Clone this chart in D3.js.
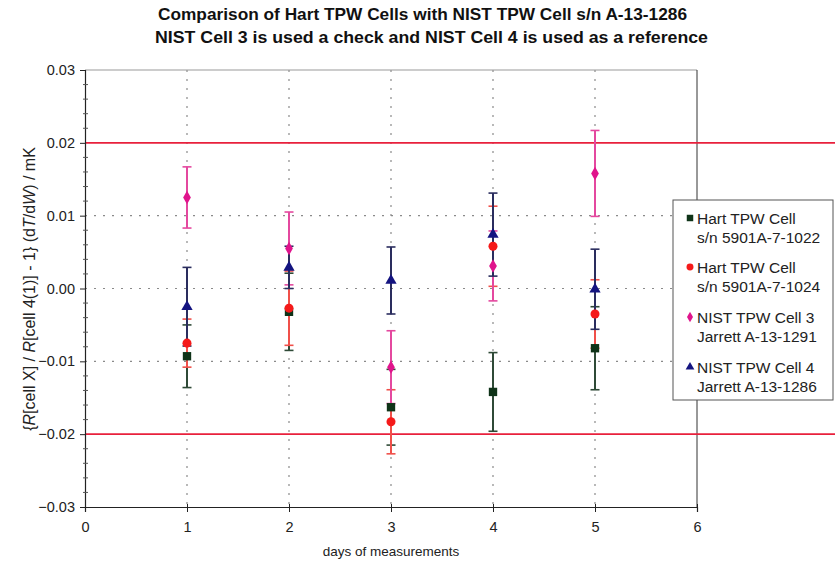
<!DOCTYPE html>
<html><head><meta charset="utf-8">
<script src="https://cdn.jsdelivr.net/npm/d3@7/dist/d3.min.js"></script>
<style>body{margin:0;background:#fff}svg{display:block}text{font-family:"Liberation Sans",Arial,sans-serif}</style>
</head><body><svg id="c" width="835" height="569"></svg>
<script>
const days = [1, 2, 3, 4, 5];
const hart1022 = [-0.0093, -0.0032, -0.0163, -0.0142, -0.0082];
const hart1022Err = [0.0043, 0.0053, 0.0052, 0.0054, 0.0057];
const hart1024 = [-0.0075, -0.0027, -0.0183, 0.0058, -0.0035];
const hart1024Err = [0.0033, 0.0051, 0.0044, 0.0055, 0.0047];
const nist3 = [0.0125, 0.0055, -0.0108, 0.0031, 0.0158];
const nist3Err = [0.0042, 0.0050, 0.0050, 0.0048, 0.0059];
const nist4 = [-0.0025, 0.0029, 0.0011, 0.0074, -0.0001];
const nist4Err = [0.0054, 0.0029, 0.0046, 0.0057, 0.0055];
const xTicks = [0, 1, 2, 3, 4, 5, 6];
const yTicks = [-0.03, -0.02, -0.01, 0, 0.01, 0.02, 0.03];
const limits = [0.02, -0.02];
const titleLines = ["Comparison of Hart TPW Cells with NIST TPW Cell s/n A-13-1286",
  "NIST Cell 3 is used a check and NIST Cell 4 is used as a reference"];
const seriesNames = [["Hart TPW Cell", "s/n 5901A-7-1022"], ["Hart TPW Cell", "s/n 5901A-7-1024"],
  ["NIST TPW Cell 3", "Jarrett A-13-1291"], ["NIST TPW Cell 4", "Jarrett A-13-1286"]];

const series = [
  {vals: hart1022, err: hart1022Err, color: "#0f3318", bar: "#2f4a37", sym: d3.symbolSquare, size: 70},
  {vals: hart1024, err: hart1024Err, color: "#f51a1a", bar: "#f0504a", sym: d3.symbolCircle, size: 64},
  {vals: nist3, err: nist3Err, color: "#e0148c", bar: "#e4489f", sym: d3.symbolDiamond, size: 52},
  {vals: nist4, err: nist4Err, color: "#141480", bar: "#2a2d5e", sym: d3.symbolTriangle, size: 55}
];

const svg = d3.select("#c");
const L = 85, R = 697, T = 70, B = 507;
const x = d3.scaleLinear().domain([0, 6]).range([L, R]);
const y = d3.scaleLinear().domain([-0.03, 0.03]).range([B, T]);

// gridlines
svg.append("g").selectAll("line").data(yTicks.filter(v => Math.abs(v) < 0.025 && v !== 0.02 && v !== -0.02))
  .join("line").attr("x1", L).attr("x2", R).attr("y1", d => y(d)).attr("y2", d => y(d))
  .attr("stroke", "#8a8a8a").attr("stroke-width", 1.2).attr("stroke-dasharray", "2,7");
svg.append("g").selectAll("line").data(xTicks.filter(v => v > 0 && v < 6))
  .join("line").attr("x1", d => x(d)).attr("x2", d => x(d)).attr("y1", T).attr("y2", B)
  .attr("stroke", "#8a8a8a").attr("stroke-width", 1.2).attr("stroke-dasharray", "2,7");
svg.append("line").attr("x1", L).attr("x2", R).attr("y1", y(0.03)).attr("y2", y(0.03))
  .attr("stroke", "#999").attr("stroke-width", 1);
svg.append("line").attr("x1", R).attr("x2", R).attr("y1", T).attr("y2", B)
  .attr("stroke", "#333").attr("stroke-width", 1);

// limit lines
svg.append("g").selectAll("line").data(limits).join("line")
  .attr("x1", L).attr("x2", 835).attr("y1", d => y(d)).attr("y2", d => y(d))
  .attr("stroke", "#e8203c").attr("stroke-width", 1.6);

// axes
const yAxis = d3.axisLeft(y).tickValues(yTicks).tickFormat(d3.format(".2f")).tickSize(5).tickPadding(5);
const gy = svg.append("g").attr("transform", `translate(${L},0)`).call(yAxis);
gy.selectAll("text").attr("font-size", 14.5).attr("fill", "#222");
gy.select(".domain").attr("stroke", "#222").attr("stroke-width", 1.2);
gy.selectAll(".tick line").attr("stroke", "#222");
const minorY = d3.range(-0.03, 0.0301, 0.002).filter(v => Math.abs(Math.round(v * 1000) % 10) !== 0);
svg.append("g").selectAll("line").data(minorY).join("line")
  .attr("x1", L - 2).attr("x2", L + 3).attr("y1", d => y(d)).attr("y2", d => y(d))
  .attr("stroke", "#555").attr("stroke-width", 1);

const xAxis = d3.axisBottom(x).tickValues(xTicks).tickFormat(d3.format("d")).tickSize(5).tickPadding(10);
const gx = svg.append("g").attr("transform", `translate(0,${B})`).call(xAxis);
gx.selectAll("text").attr("font-size", 14.5).attr("fill", "#222");
gx.select(".domain").attr("stroke", "#222").attr("stroke-width", 1.2);
gx.selectAll(".tick line").attr("stroke", "#222").attr("y1", -3);

// error bars and markers
series.forEach(s => {
  const g = svg.append("g");
  days.forEach((d, i) => {
    const cx = x(d), hi = y(s.vals[i] + s.err[i]), lo = y(s.vals[i] - s.err[i]);
    g.append("line").attr("x1", cx).attr("x2", cx).attr("y1", hi).attr("y2", lo)
      .attr("stroke", s.bar).attr("stroke-width", 2);
    [hi, lo].forEach(yy => g.append("line").attr("x1", cx - 4.5).attr("x2", cx + 4.5)
      .attr("y1", yy).attr("y2", yy).attr("stroke", s.bar).attr("stroke-width", 1.6));
  });
});
series.forEach(s => {
  svg.append("g").selectAll("path").data(days).join("path")
    .attr("transform", (d, i) => `translate(${x(d)},${y(s.vals[i])})`)
    .attr("d", d3.symbol().type(s.sym).size(s.size)).attr("fill", s.color);
});

// legend
const lg = svg.append("g");
lg.append("rect").attr("x", 673).attr("y", 200).attr("width", 160).attr("height", 200)
  .attr("fill", "#fff").attr("stroke", "#555").attr("stroke-width", 1);
const legY = [218, 267, 317, 367];
series.forEach((s, i) => {
  lg.append("path").attr("transform", `translate(690,${legY[i]})`)
    .attr("d", d3.symbol().type(s.sym).size(s.size * 0.6)).attr("fill", s.color);
  lg.append("text").attr("x", 697).attr("y", legY[i] + 6).attr("font-size", 15.5).attr("fill", "#222").text(seriesNames[i][0]);
  lg.append("text").attr("x", 697).attr("y", legY[i] + 24.5).attr("font-size", 15.5).attr("fill", "#222").text(seriesNames[i][1]);
});

// titles
const titleStart = [158, 155], titleLen = [529, 553];
svg.append("g").selectAll("text").data(titleLines).join("text")
  .attr("x", (d, i) => titleStart[i]).attr("y", (d, i) => 20 + i * 23)
  .attr("textLength", (d, i) => titleLen[i]).attr("lengthAdjust", "spacingAndGlyphs")
  .attr("font-size", 17).attr("font-weight", "bold").attr("fill", "#111").text(d => d);

svg.append("text").attr("x", 391).attr("y", 556).attr("text-anchor", "middle")
  .attr("font-size", 13.5).attr("fill", "#222").text("days of measurements");

const yl = svg.append("text").attr("transform", "translate(35,289) rotate(-90)")
  .attr("text-anchor", "middle").attr("font-size", 16).attr("fill", "#222");
[["{", false], ["R", true], ["[cell X] / ", false], ["R", true], ["[cell 4(1)] - 1} (d", false],
 ["T", true], ["/d", false], ["W", true], [") / mK", false]].forEach(p =>
  yl.append("tspan").attr("font-style", p[1] ? "italic" : "normal").text(p[0]));
</script></body></html>
